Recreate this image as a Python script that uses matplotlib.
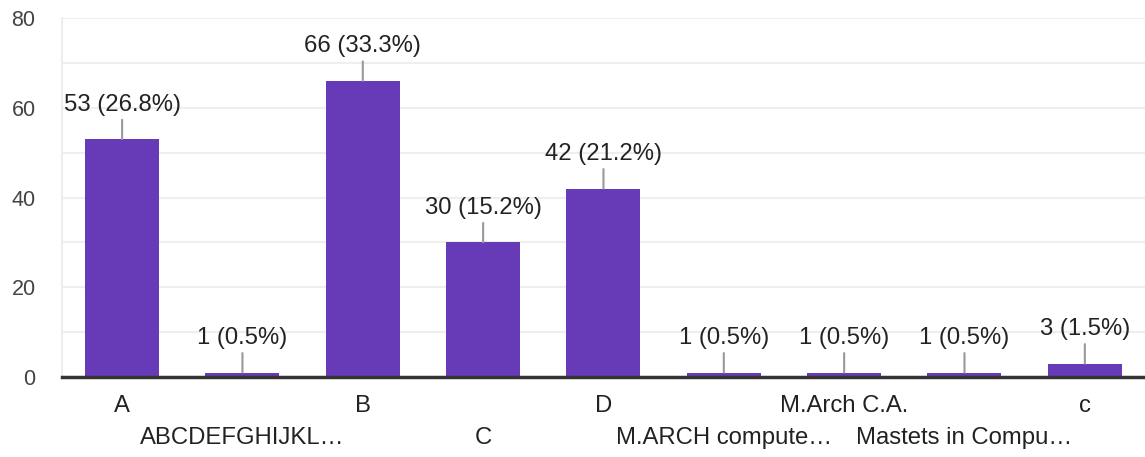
import matplotlib.pyplot as plt

# dane z wykresu
kategorie = ["A", "ABCDEFGHIJKL…", "B", "C", "D", "M.ARCH compute…",
             "M.Arch C.A.", "Mastets in Compu…", "c"]
liczby = [53, 1, 66, 30, 42, 1, 1, 1, 3]
procenty = [26.8, 0.5, 33.3, 15.2, 21.2, 0.5, 0.5, 0.5, 1.5]
y_ticks = [0, 20, 40, 60, 80]

plt.rcParams["font.family"] = ["Liberation Sans", "DejaVu Sans"]

fig = plt.figure(figsize=(11.45, 4.57), dpi=100)
ax = fig.add_axes([0.0541, 0.175, 0.9459, 0.7856])

x = list(range(len(kategorie)))
ax.bar(x, liczby, width=0.615, color="#673ab7", zorder=3)

# etykiety nad słupkami z kreską
for xi, n, p in zip(x, liczby, procenty):
    ax.annotate(f"{n} ({p}%)", xy=(xi, n), xytext=(0, 17), textcoords="offset points",
                ha="center", va="bottom", fontsize=17.2, color="#222222", zorder=4,
                arrowprops=dict(arrowstyle="-", color="#999999", lw=1.5,
                                shrinkA=1, shrinkB=0))

ax.set_xlim(-0.5, len(kategorie) - 0.5)
ax.set_ylim(0, 80)
ax.set_yticks(range(0, 81, 10), minor=True)
ax.set_yticks(y_ticks)
ax.grid(axis="y", which="both", color="#eeeeee", lw=1.5, zorder=0)

# etykiety osi x na przemian w dwóch rzędach (major = górny rząd, minor = dolny)
ax.set_xticks(x[0::2])
ax.set_xticklabels(kategorie[0::2])
ax.set_xticks(x[1::2], minor=True)
ax.set_xticklabels(kategorie[1::2], minor=True)
ax.tick_params(axis="x", which="major", length=0, pad=13, labelsize=17.2, labelcolor="#222222")
ax.tick_params(axis="x", which="minor", length=0, pad=36, labelsize=17.2, labelcolor="#222222")
ax.tick_params(axis="y", which="both", length=0, pad=19, labelsize=15.5, labelcolor="#444444")

for s in ["top", "right"]:
    ax.spines[s].set_visible(False)
ax.spines["left"].set_color("#eeeeee")
ax.spines["left"].set_linewidth(1.5)
ax.spines["bottom"].set_color("#333333")
ax.spines["bottom"].set_linewidth(2.5)
ax.spines["bottom"].set_zorder(5)

fig.savefig("out.png", dpi=100)
